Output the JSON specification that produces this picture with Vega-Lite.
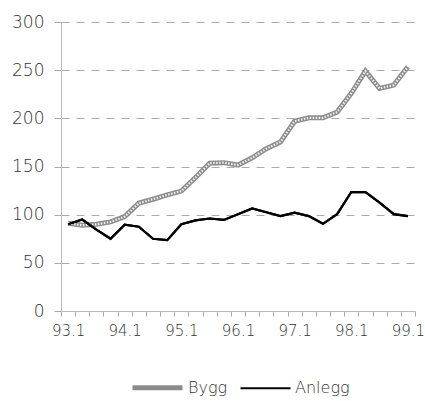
{
  "$schema": "https://vega.github.io/schema/vega-lite/v6.json",
  "width": 354,
  "height": 289,
  "autosize": "none",
  "padding": {"left": 61, "top": 22, "right": 10, "bottom": 90},
  "config": {
    "view": {"stroke": null},
    "font": "DejaVu Sans",
    "axis": {"labelFont": "DejaVu Sans", "labelFontWeight": 200, "labelColor": "#333"},
    "legend": {"labelFont": "DejaVu Sans", "labelFontWeight": 200, "labelColor": "#333"}
  },
  "data": {
    "values": [
      {"q": "93.1", "serie": "Bygg", "v": 91}, {"q": "93.1", "serie": "Anlegg", "v": 90},
      {"q": "93.2", "serie": "Bygg", "v": 89}, {"q": "93.2", "serie": "Anlegg", "v": 95},
      {"q": "93.3", "serie": "Bygg", "v": 90}, {"q": "93.3", "serie": "Anlegg", "v": 84.5},
      {"q": "93.4", "serie": "Bygg", "v": 92.5}, {"q": "93.4", "serie": "Anlegg", "v": 75},
      {"q": "94.1", "serie": "Bygg", "v": 98}, {"q": "94.1", "serie": "Anlegg", "v": 89.5},
      {"q": "94.2", "serie": "Bygg", "v": 112}, {"q": "94.2", "serie": "Anlegg", "v": 87.5},
      {"q": "94.3", "serie": "Bygg", "v": 116}, {"q": "94.3", "serie": "Anlegg", "v": 75},
      {"q": "94.4", "serie": "Bygg", "v": 120.5}, {"q": "94.4", "serie": "Anlegg", "v": 73.5},
      {"q": "95.1", "serie": "Bygg", "v": 124.5}, {"q": "95.1", "serie": "Anlegg", "v": 90},
      {"q": "95.2", "serie": "Bygg", "v": 138.5}, {"q": "95.2", "serie": "Anlegg", "v": 94},
      {"q": "95.3", "serie": "Bygg", "v": 153.5}, {"q": "95.3", "serie": "Anlegg", "v": 96},
      {"q": "95.4", "serie": "Bygg", "v": 154}, {"q": "95.4", "serie": "Anlegg", "v": 94.5},
      {"q": "96.1", "serie": "Bygg", "v": 151.5}, {"q": "96.1", "serie": "Anlegg", "v": 100.5},
      {"q": "96.2", "serie": "Bygg", "v": 159}, {"q": "96.2", "serie": "Anlegg", "v": 106.5},
      {"q": "96.3", "serie": "Bygg", "v": 168.5}, {"q": "96.3", "serie": "Anlegg", "v": 102.5},
      {"q": "96.4", "serie": "Bygg", "v": 175.5}, {"q": "96.4", "serie": "Anlegg", "v": 98.5},
      {"q": "97.1", "serie": "Bygg", "v": 197}, {"q": "97.1", "serie": "Anlegg", "v": 102},
      {"q": "97.2", "serie": "Bygg", "v": 200.5}, {"q": "97.2", "serie": "Anlegg", "v": 98.5},
      {"q": "97.3", "serie": "Bygg", "v": 200.5}, {"q": "97.3", "serie": "Anlegg", "v": 90.5},
      {"q": "97.4", "serie": "Bygg", "v": 206.5}, {"q": "97.4", "serie": "Anlegg", "v": 100.5},
      {"q": "98.1", "serie": "Bygg", "v": 226}, {"q": "98.1", "serie": "Anlegg", "v": 123.5},
      {"q": "98.2", "serie": "Bygg", "v": 249}, {"q": "98.2", "serie": "Anlegg", "v": 123.5},
      {"q": "98.3", "serie": "Bygg", "v": 231}, {"q": "98.3", "serie": "Anlegg", "v": 112.5},
      {"q": "98.4", "serie": "Bygg", "v": 234.5}, {"q": "98.4", "serie": "Anlegg", "v": 100.5},
      {"q": "99.1", "serie": "Bygg", "v": 253.5}, {"q": "99.1", "serie": "Anlegg", "v": 98.5}
    ]
  },
  "encoding": {
    "x": {
      "field": "q", "type": "ordinal", "bandPosition": 0.5,
      "scale": {"type": "band", "paddingInner": 0, "paddingOuter": 0},
      "axis": {
        "title": null, "tickBand": "extent", "labelAngle": 0, "labelOverlap": false,
        "labelExpr": "slice(datum.label, -1) == '1' ? datum.label : ''",
        "labelFontSize": 15, "labelPadding": 7, "tickSize": 5, "tickColor": "#aaa",
        "domainColor": "#bbb", "grid": false
      }
    },
    "y": {
      "field": "v", "type": "quantitative",
      "scale": {"domain": [0, 300], "nice": false},
      "axis": {
        "title": null, "values": [0, 50, 100, 150, 200, 250, 300],
        "labelFontSize": 17, "labelPadding": 10, "tickSize": 7, "tickColor": "#aaa",
        "domainColor": "#bbb", "grid": true, "gridColor": "#aaa", "gridDash": [8, 7], "gridWidth": 1
      }
    }
  },
  "layer": [
    {
      "mark": {"type": "line"},
      "encoding": {
        "color": {
          "field": "serie", "type": "nominal",
          "scale": {"domain": ["Bygg", "Anlegg"], "range": ["#8c8c8c", "#000000"]},
          "legend": {
            "title": null, "orient": "none", "direction": "horizontal",
            "legendX": 69, "legendY": 338, "symbolType": "stroke", "symbolSize": 2500,
            "labelFontSize": 16, "labelOffset": 3, "columnPadding": 8
          }
        },
        "strokeWidth": {
          "field": "serie", "type": "nominal",
          "scale": {"domain": ["Bygg", "Anlegg"], "range": [5, 2.2]},
          "legend": {
            "title": null, "orient": "none", "direction": "horizontal",
            "legendX": 69, "legendY": 338, "symbolType": "stroke", "symbolSize": 2500,
            "labelFontSize": 16, "labelOffset": 3, "columnPadding": 8
          }
        }
      }
    },
    {
      "transform": [{"filter": "datum.serie == 'Bygg'"}],
      "mark": {"type": "line", "color": "#f2f2f2", "strokeWidth": 2.2, "strokeDash": [1.5, 1.5]},
      "encoding": {}
    },
    {
      "transform": [{"filter": "datum.serie == 'Anlegg'"}],
      "mark": {"type": "line", "color": "#000000", "strokeWidth": 2.2},
      "encoding": {}
    }
  ]
}
